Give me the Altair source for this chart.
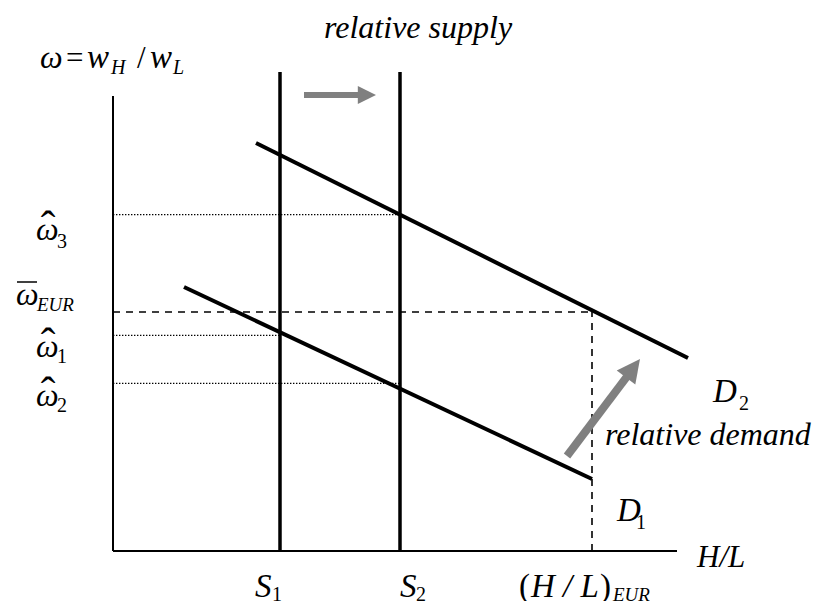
import altair as alt
import pandas as pd

# ---------------- data (economic units) ----------------
# axes
axis_x1 = [0.0, 0.0]
axis_y1 = [0.0, 0.0]
axis_x2 = [0.0, 14.1]
axis_y2 = [11.375, 0.0]

# relative supply curves (vertical)
supply_names = ["S1", "S2"]
supply_x = [4.175, 7.175]
supply_top = [11.975, 11.975]

# relative demand curves (start / end points)
demand_names = ["D1", "D2"]
demand_x1 = [1.775, 3.575]
demand_y1 = [6.6, 10.2]
demand_x2 = [11.975, 14.375]
demand_y2 = [1.8, 4.825]

# dotted guide levels (omega hats) and where they stop
dotted_names = ["w3", "w1", "w2"]
dotted_y = [8.41, 5.39, 4.19]
dotted_xend = [7.175, 4.175, 7.175]

# dashed EUR guide
eur_omega = 5.975
eur_hl = 11.975

# grey arrows: shaft start, shaft end, tip, head size, angle, width
arrow_x1 = [4.775, 11.35]
arrow_y1 = [11.4, 2.375]
arrow_x2 = [6.2, 12.9]
arrow_y2 = [11.4, 4.43]
tip_x = [6.575, 13.175]
tip_y = [11.4, 4.8]
head_size = [330, 540]
head_angle = [90, 37]
shaft_w = [6, 8]

# bar over omega_EUR
bar_x = [-2.4, -1.9]
bar_y = 6.725

# italic text labels: text, x, y(baseline), size
lab_text = ["relative supply", "relative demand", "H/L",
            "D", "D", "S", "S", "H / L",
            "ω", "ω", "ω", "ω",
            "ω", "w", "w"]
lab_x = [5.275, 12.3, 14.6,
         15.0, 12.6, 3.55, 7.175, 10.45,
         -1.925, -2.425, -1.925, -1.925,
         -1.825, -0.65, 0.925]
lab_y = [12.825, 2.65, -0.4,
         3.725, 0.75, -1.15, -1.15, -1.15,
         7.775, 6.15, 4.85, 3.625,
         12.075, 12.075, 12.075]
lab_size = [32, 32, 31,
            33, 33, 33, 33, 33,
            32, 32, 32, 32,
            32, 33, 33]

# upright text: digits, brackets, hats, operators
up_text = ["2", "1", "1", "2", "(", ")",
           "3", "1", "2",
           "ˆ", "ˆ", "ˆ",
           "=", "/"]
up_x = [15.65, 13.075, 3.975, 7.575, 10.15, 12.175,
        -1.4, -1.4, -1.4,
        -1.625, -1.625, -1.625,
        -1.175, 0.6]
up_y = [3.525, 0.55, -1.25, -1.25, -1.15, -1.15,
        7.575, 4.7, 3.475,
        7.75, 4.83, 3.6,
        12.075, 12.075]
up_size = [20, 20, 20, 20, 33, 33,
           20, 20, 20,
           44, 44, 44,
           31, 31]
up_align = ["left"] * 9 + ["center"] * 3 + ["left"] * 2

# italic subscripts
sub_text = ["EUR", "EUR", "H", "L"]
sub_x = [12.5, -1.9, -0.05, 1.5]
sub_y = [-1.25, 6.0, 11.925, 11.925]
sub_size = [19, 19, 20, 20]

# ---------------- scales ----------------
W, H = 806, 593
XD = [-2.625, -2.625 + W / 40]
YD = [13.575 - H / 40, 13.575]
xs = alt.Scale(domain=XD, nice=False, zero=False)
ys = alt.Scale(domain=YD, nice=False, zero=False)
FONT = "Liberation Serif"


def rules(df, **kw):
    return alt.Chart(df).mark_rule(**kw).encode(
        x=alt.X("x1:Q", scale=xs, axis=None),
        y=alt.Y("y1:Q", scale=ys, axis=None),
        x2="x2:Q", y2="y2:Q")


axes_df = pd.DataFrame({"x1": axis_x1, "y1": axis_y1, "x2": axis_x2, "y2": axis_y2})
sup_df = pd.DataFrame({"name": supply_names, "x1": supply_x, "y1": [0.0] * 2,
                       "x2": supply_x, "y2": supply_top})
dem_df = pd.DataFrame({"name": demand_names, "x1": demand_x1, "y1": demand_y1,
                       "x2": demand_x2, "y2": demand_y2})
dot_df = pd.DataFrame({"name": dotted_names, "x1": [0.0] * 3, "y1": dotted_y,
                       "x2": dotted_xend, "y2": dotted_y})
dash_df = pd.DataFrame({"x1": [0.0, eur_hl], "y1": [eur_omega, 0.0],
                        "x2": [eur_hl, eur_hl], "y2": [eur_omega, eur_omega]})
bar_df = pd.DataFrame({"x1": [bar_x[0]], "y1": [bar_y], "x2": [bar_x[1]], "y2": [bar_y]})
shaft_df = pd.DataFrame({"x1": arrow_x1, "y1": arrow_y1, "x2": arrow_x2, "y2": arrow_y2,
                         "w": shaft_w})
head_df = pd.DataFrame({"x": tip_x, "y": tip_y, "s": head_size, "a": head_angle})

axes_l = rules(axes_df, color="black", strokeWidth=2)
sup_l = rules(sup_df, color="black", strokeWidth=3.5)
dem_l = rules(dem_df, color="black", strokeWidth=4)
dot_l = rules(dot_df, color="black", strokeWidth=1.2, strokeDash=[1.4, 1.6])
dash_l = rules(dash_df, color="black", strokeWidth=1.6, strokeDash=[7, 6])
bar_l = rules(bar_df, color="black", strokeWidth=1.5)
shaft_l = alt.Chart(shaft_df).mark_rule(color="#808080").encode(
    x=alt.X("x1:Q", scale=xs, axis=None), y=alt.Y("y1:Q", scale=ys, axis=None),
    x2="x2:Q", y2="y2:Q", strokeWidth=alt.StrokeWidth("w:Q", scale=None, legend=None))
head_l = alt.Chart(head_df).mark_point(
    shape="M0,0L1,2L-1,2Z", filled=True, color="#808080", opacity=1, strokeWidth=0
).encode(
    x=alt.X("x:Q", scale=xs, axis=None), y=alt.Y("y:Q", scale=ys, axis=None),
    size=alt.Size("s:Q", scale=None, legend=None),
    angle=alt.Angle("a:Q", scale=None))

lab_df = pd.DataFrame({"t": lab_text, "x": lab_x, "y": lab_y, "fs": lab_size})
up_df = pd.DataFrame({"t": up_text, "x": up_x, "y": up_y, "fs": up_size, "al": up_align})
sub_df = pd.DataFrame({"t": sub_text, "x": sub_x, "y": sub_y, "fs": sub_size})


def texts(df, italic, align="left"):
    return alt.Chart(df).mark_text(
        font=FONT, fontStyle="italic" if italic else "normal", align=align,
        baseline="alphabetic", color="black"
    ).encode(
        x=alt.X("x:Q", scale=xs, axis=None), y=alt.Y("y:Q", scale=ys, axis=None),
        text="t:N", size=alt.Size("fs:Q", scale=None, legend=None))


lab_l = texts(lab_df, True)
up_left = texts(up_df[up_df["al"] == "left"], False, "left")
up_center = texts(up_df[up_df["al"] == "center"], False, "center")
sub_l = texts(sub_df, True)

chart = alt.layer(
    dot_l, dash_l, axes_l, sup_l, dem_l, shaft_l, head_l, bar_l,
    lab_l, up_left, up_center, sub_l
).properties(
    width=W, height=H, autosize=alt.AutoSizeParams(type="none"), padding=0,
    background="white"
).configure_view(stroke=None)

chart.save("out.html", embed_options={"renderer": "svg", "actions": False})
